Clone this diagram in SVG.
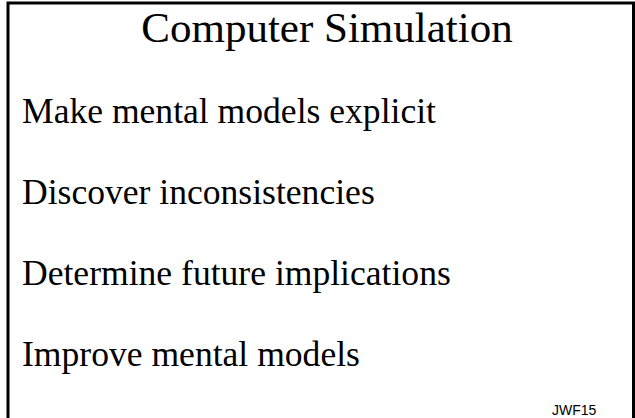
<svg xmlns="http://www.w3.org/2000/svg" width="635" height="418" viewBox="0 0 635 418">
<style>
.t{font-family:"Liberation Serif","Times New Roman",serif;fill:#000}
.b{font-size:35.6px}
.h{font-size:43px}
.n{font-family:"Liberation Sans",Arial,sans-serif;font-size:14px;fill:#000}
.frame{fill:none;stroke:#000;stroke-width:3}
</style>
<rect width="635" height="418" fill="#fff"/>
<path class="frame" d="M8,420 V3 H633.5 V420"/>
<g id="title"><text class="t h" x="327" y="42" text-anchor="middle">Computer Simulation</text></g>
<g id="item1"><text class="t b" x="22" y="123">Make mental models explicit</text></g>
<g id="item2"><text class="t b" x="22" y="204">Discover inconsistencies</text></g>
<g id="item3"><text class="t b" x="22" y="285">Determine future implications</text></g>
<g id="item4"><text class="t b" x="22" y="366">Improve mental models</text></g>
<g id="footer"><text class="n" x="552" y="415">JWF15</text></g>
<g id="connectors"/>
</svg>
